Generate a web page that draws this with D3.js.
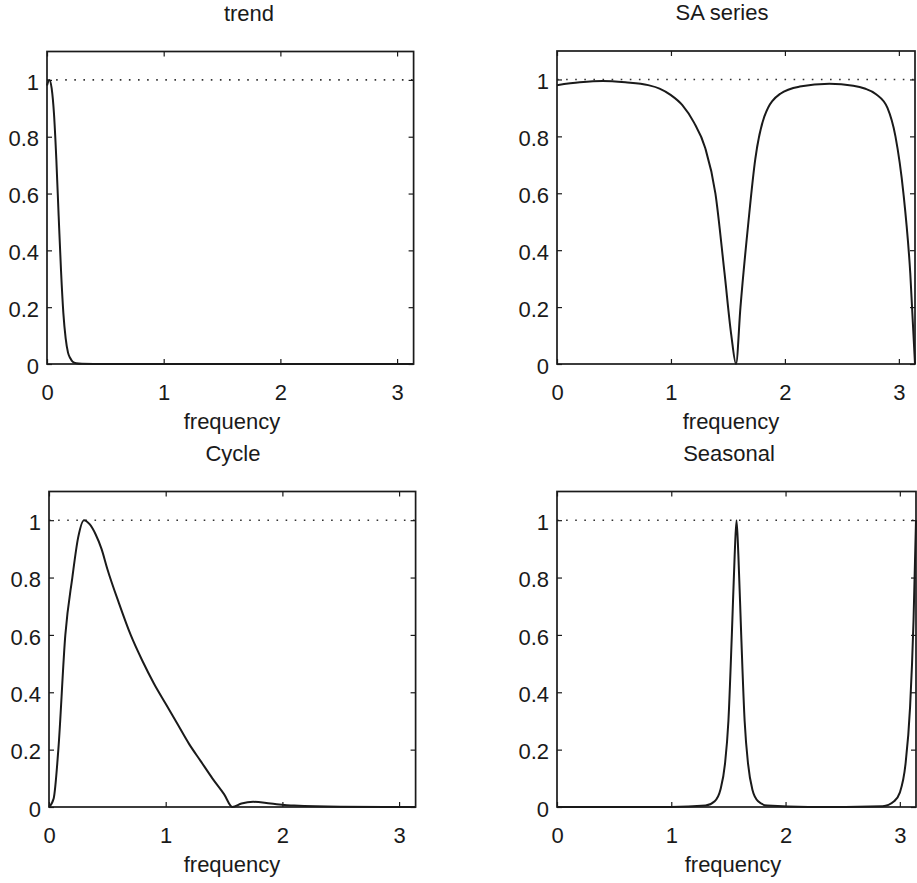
<!DOCTYPE html>
<html><head><meta charset="utf-8">
<script src="https://cdn.jsdelivr.net/npm/d3@7"></script>
<style>
body{margin:0;background:#fff}
text{font-family:"Liberation Sans",Arial,Helvetica,sans-serif;fill:#1a1a1a}
</style>
</head><body>
<svg id="c" width="917" height="883"></svg>
<script>
// ---- data ----
const xTicks = [0, 1, 2, 3];
const yTicks = [0, 0.2, 0.4, 0.6, 0.8, 1];
const titles = ["trend", "SA series", "Cycle", "Seasonal"];
const xLabel = "frequency";

const trendFreq = [0, 0.02, 0.04, 0.06, 0.08, 0.1, 0.12, 0.14, 0.16, 0.18, 0.2, 0.22, 0.25, 0.3, 0.5, 1, 2, 3, 3.1416];
const trendGain = [0.98, 1.0, 0.97, 0.88, 0.72, 0.52, 0.33, 0.18, 0.09, 0.04, 0.02, 0.008, 0.003, 0.001, 0, 0, 0, 0, 0];

const saFreq = [0, 0.2, 0.4, 0.6, 0.8, 0.9, 1.0, 1.1, 1.2, 1.3, 1.39, 1.47, 1.53, 1.571, 1.61, 1.68, 1.74, 1.82, 1.96, 2.13, 2.39, 2.6, 2.7, 2.8, 2.9, 2.97, 3.04, 3.1, 3.1416];
const saGain = [0.98, 0.99, 0.995, 0.99, 0.98, 0.968, 0.945, 0.91, 0.85, 0.76, 0.6, 0.32, 0.1, 0, 0.2, 0.5, 0.72, 0.87, 0.95, 0.975, 0.985, 0.978, 0.968, 0.948, 0.9, 0.8, 0.6, 0.32, 0];

const cycleFreq = [0, 0.04, 0.08, 0.14, 0.2, 0.25, 0.3, 0.35, 0.4, 0.45, 0.5, 0.6, 0.7, 0.8, 0.9, 1.0, 1.1, 1.2, 1.3, 1.4, 1.5, 1.571, 1.65, 1.75, 1.9, 2.1, 2.5, 3.1416];
const cycleGain = [0, 0.03, 0.2, 0.6, 0.8, 0.94, 1.0, 0.985, 0.95, 0.9, 0.83, 0.71, 0.6, 0.51, 0.43, 0.36, 0.29, 0.22, 0.16, 0.1, 0.045, 0, 0.012, 0.018, 0.012, 0.005, 0.001, 0];

const seasFreq = [0, 1.0, 1.3, 1.38, 1.43, 1.47, 1.5, 1.53, 1.555, 1.571, 1.587, 1.612, 1.642, 1.672, 1.71, 1.76, 1.84, 2.2, 2.85, 2.95, 3.0, 3.05, 3.09, 3.12, 3.1416];
const seasGain = [0, 0, 0.005, 0.02, 0.06, 0.15, 0.3, 0.6, 0.88, 1.0, 0.88, 0.6, 0.3, 0.15, 0.06, 0.02, 0.005, 0, 0.003, 0.02, 0.05, 0.15, 0.35, 0.65, 1.0];

const series = [[trendFreq, trendGain], [saFreq, saGain], [cycleFreq, cycleGain], [seasFreq, seasGain]];

// ---- layout ----
const layout = [
  {l: 47, t: 51.5, r: 413.6, b: 364, tx: 249, lx: 232},
  {l: 557, t: 51, r: 915, b: 364, tx: 722, lx: 731},
  {l: 49, t: 491.5, r: 415.6, b: 807, tx: 233, lx: 232},
  {l: 557, t: 491.5, r: 916, b: 807, tx: 729, lx: 733}
];

const svg = d3.select("#c");
const FS = 22;

layout.forEach((L, i) => {
  const x = d3.scaleLinear().domain([0, Math.PI]).range([L.l, L.r]);
  const y = d3.scaleLinear().domain([0, 1.1]).range([L.b, L.t]);
  const g = svg.append("g");

  // reference line at 1
  g.append("line").attr("x1", L.l).attr("x2", L.r).attr("y1", y(1)).attr("y2", y(1))
    .attr("stroke", "#333").attr("stroke-width", 1.6).attr("stroke-dasharray", "1.6,7.5");

  // curve
  const [fx, fy] = series[i];
  const pts = fx.map((v, k) => [v, fy[k]]);
  g.append("path").datum(pts)
    .attr("d", d3.line().x(d => x(d[0])).y(d => y(d[1])).curve(d3.curveMonotoneX))
    .attr("fill", "none").attr("stroke", "#1a1a1a").attr("stroke-width", 2);

  // axes with inward ticks
  const axB = d3.axisBottom(x).tickValues(xTicks).tickSize(-5).tickFormat(d3.format("d")).tickPadding(16);
  const axT = d3.axisTop(x).tickValues(xTicks).tickSize(-5).tickFormat("");
  const axL = d3.axisLeft(y).tickValues(yTicks).tickSize(-5).tickFormat(d => d === 0 ? "0" : d === 1 ? "1" : d3.format(".1f")(d)).tickPadding(8);
  const axR = d3.axisRight(y).tickValues(yTicks).tickSize(-5).tickFormat("");

  const gb = g.append("g").attr("transform", `translate(0,${L.b})`).call(axB);
  const gt = g.append("g").attr("transform", `translate(0,${L.t})`).call(axT);
  const gl = g.append("g").attr("transform", `translate(${L.l},0)`).call(axL);
  const gr = g.append("g").attr("transform", `translate(${L.r},0)`).call(axR);
  [gb, gt, gl, gr].forEach(a => {
    a.select(".domain").remove();
    a.selectAll(".tick line").attr("stroke", "#1a1a1a").attr("stroke-width", 1.2);
    a.selectAll("text").attr("font-size", FS).attr("font-family", null).attr("fill", "#1a1a1a");
  });
  gb.selectAll(".tick text").attr("dy", "0.9em");
  gl.selectAll(".tick text").attr("dy", "0.42em");

  // box
  g.append("rect").attr("x", L.l).attr("y", L.t).attr("width", L.r - L.l).attr("height", L.b - L.t)
    .attr("fill", "none").attr("stroke", "#1a1a1a").attr("stroke-width", 1.7);

  // title and x label
  svg.append("text").attr("x", L.tx).attr("y", L.t - 31).attr("text-anchor", "middle")
    .attr("font-size", FS).text(titles[i]);
  svg.append("text").attr("x", L.lx).attr("y", L.b + 65).attr("text-anchor", "middle")
    .attr("font-size", FS).text(xLabel);
});
</script>
</body></html>
